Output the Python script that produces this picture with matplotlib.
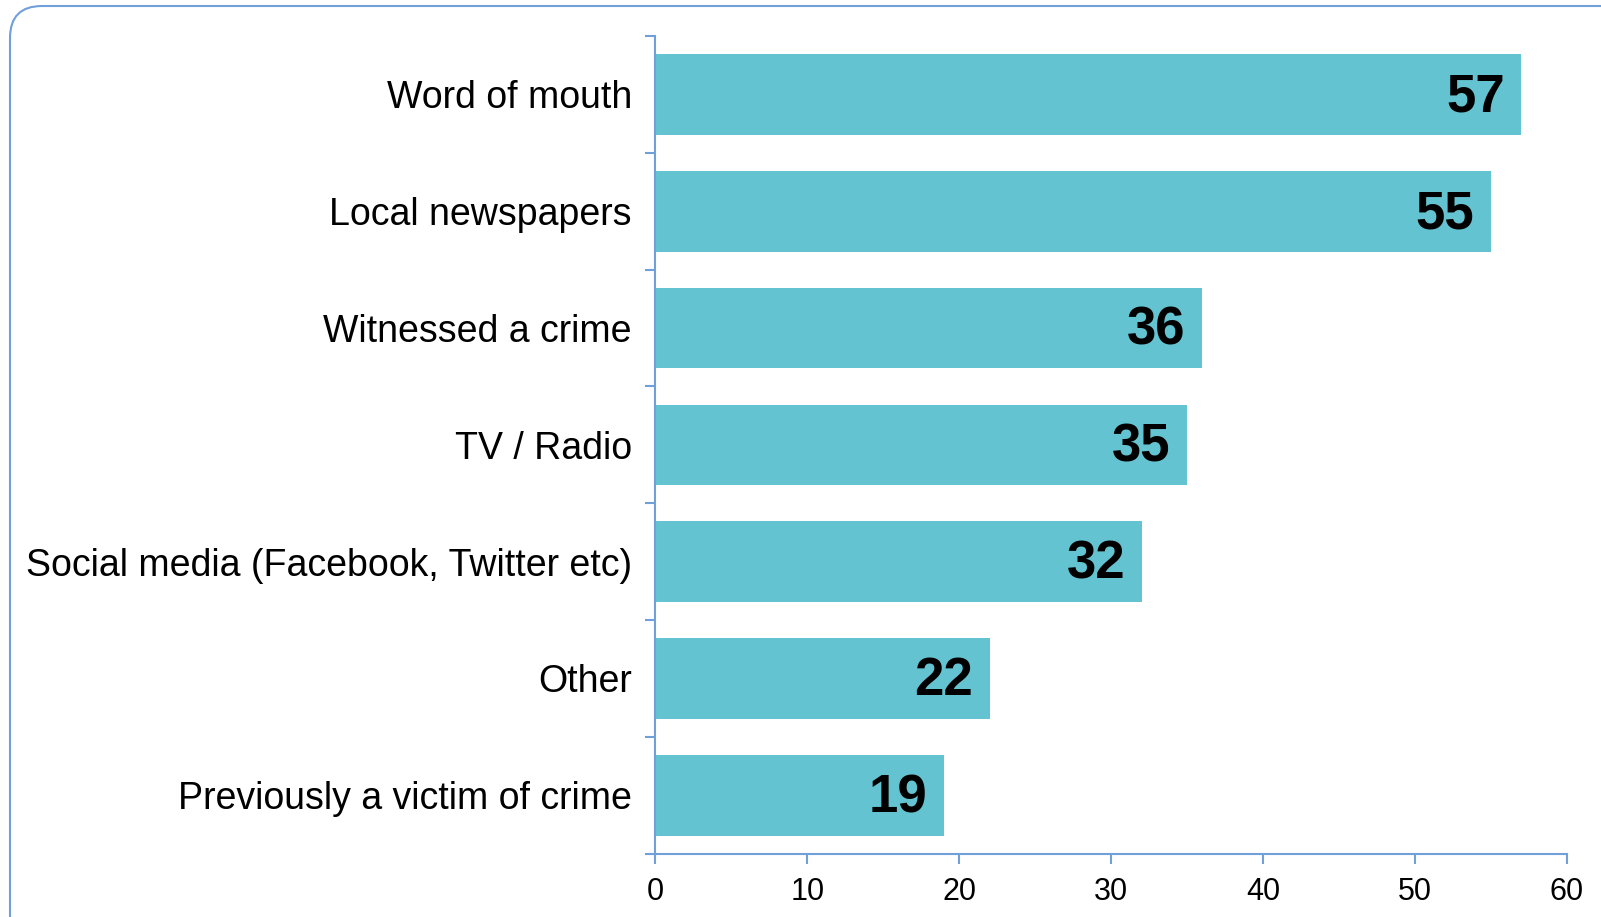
import matplotlib.pyplot as plt
from matplotlib.patches import FancyBboxPatch

# data
categories = ["Word of mouth", "Local newspapers", "Witnessed a crime", "TV / Radio",
              "Social media (Facebook, Twitter etc)", "Other", "Previously a victim of crime"]
values = [57, 55, 36, 35, 32, 22, 19]
xticks = [0, 10, 20, 30, 40, 50, 60]

bar_col = "#63c3d1"
line_col = "#6fa0dc"

plt.rcParams['font.family'] = ['Liberation Sans', 'DejaVu Sans']

fig = plt.figure(figsize=(16.01, 9.17), dpi=100)

# rounded frame round the chart
frame = FancyBboxPatch((0.10, -1.0), 17.0, 10.11,
                       boxstyle="round,pad=0,rounding_size=0.32",
                       transform=fig.dpi_scale_trans, fill=False,
                       edgecolor=line_col, linewidth=1.5)
fig.patches.append(frame)

ax = fig.add_axes([0.4094, 0.0691, 0.5694, 0.8916])
pos = list(range(len(categories)))
ax.barh(pos, values, height=0.69, color=bar_col)

for y, v in zip(pos, values):
    ax.annotate(str(v), xy=(v, y), xytext=(-12, -2), textcoords='offset points',
                ha='right', va='center', fontsize=38, fontweight='bold', color='black')

ax.set_xlim(0, 60)
ax.set_ylim(len(categories) - 0.5, -0.5)
ax.set_xticks(xticks)
ax.set_yticks(pos)
ax.set_yticklabels(categories, fontsize=27)
ax.set_yticks([p - 0.5 for p in pos] + [len(categories) - 0.5], minor=True)
ax.tick_params(axis='y', which='major', length=0, pad=17)
ax.tick_params(axis='y', which='minor', length=7, width=1.5, color=line_col)
ax.tick_params(axis='x', which='major', length=7, width=1.5, color=line_col,
               labelsize=22, pad=10)

for s in ['top', 'right']:
    ax.spines[s].set_visible(False)
for s in ['left', 'bottom']:
    ax.spines[s].set_color(line_col)
    ax.spines[s].set_linewidth(1.5)

fig.savefig("out.png", dpi=100)
